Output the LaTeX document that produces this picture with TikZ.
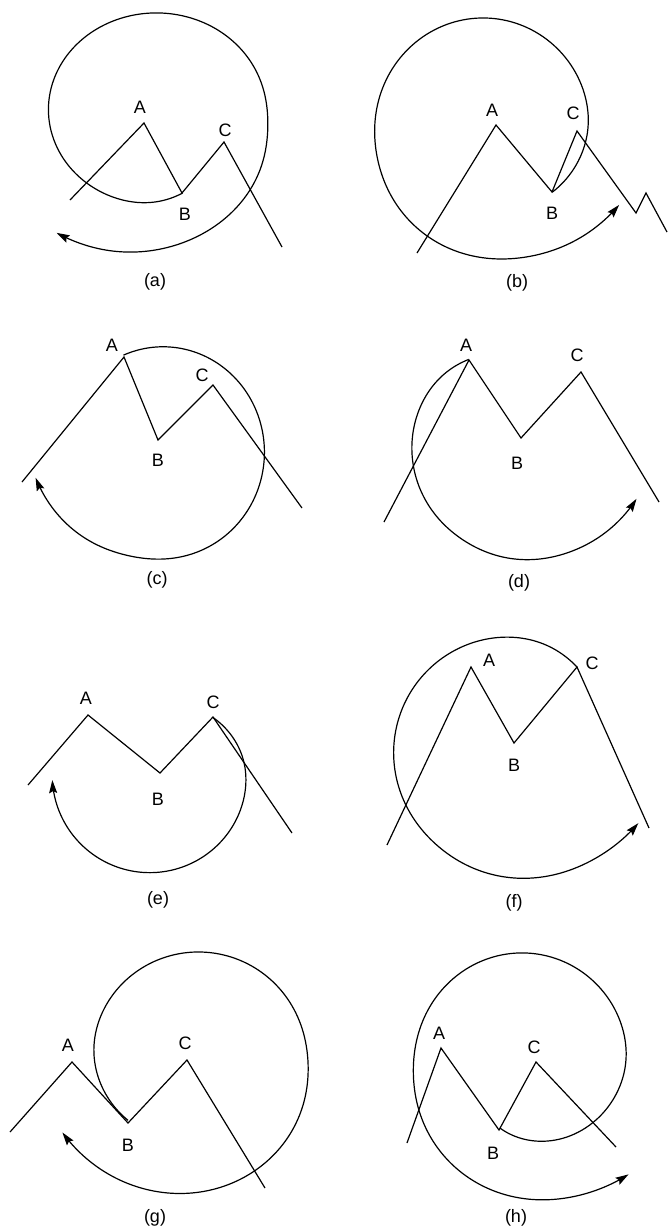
\documentclass[tikz,border=0pt]{standalone}
\usepackage{fontspec}
\setmainfont{Liberation Sans}
\usetikzlibrary{arrows.meta}

\begin{document}
\begin{tikzpicture}[x=1pt, y=-1pt, >={Stealth[length=13pt,width=8pt,inset=2pt]}, line width=1.2pt,
    every node/.style={font=\fontsize{18}{21}\selectfont, inner sep=0pt},
    declare function={
      ramp(\u)=10*(\u/20+sqrt((\u/20)^2+1));
      fa(\t)=1-0.0049*ramp(92-\t)+0.0057*ramp(\t-370)-0.004*ramp(\t-465);
      fb(\t)=1-0.00305*ramp(-\t)+0.0022*ramp(\t-195)+0.0033*ramp(\t-290);
      fc(\t)=1+0.0047*ramp(\t-470);
      fd(\t)=1-0.0022*ramp(135-\t)+0.0025*ramp(\t-242)+0.0025*ramp(\t-300);
      fe(\t)=1-0.00367*ramp(350-\t);
      ff(\t)=1-0.00284*ramp(72-\t)+0.0019*ramp(\t-232)+0.003*ramp(\t-310);
      fg(\t)=1-0.00249*ramp(185-\t)+0.003*ramp(\t-362);
      fh(\t)=1-0.00327*ramp(-\t)+0.0028*ramp(\t-185)+0.003*ramp(\t-295);
    }]
  \tikzstyle{ridge}=[line join=miter]
  \tikzstyle{sweep}=[->, line join=round, smooth, samples=160]
  \useasboundingbox (0,0) rectangle (667,1232);

  % (a)
  \draw[ridge] (70,200) -- (144,123) -- (182,193) -- (224,142) -- (282,247);
  \draw[sweep] plot[domain=74:486] ({156+108*fa(\x)*cos(\x)}, {110+97*fa(\x)*sin(\x)});
  \node (Aa) at (140,107) {A};
  \node (Ba) at (185,214) {B};
  \node (Ca) at (225,130) {C};

  % (b)
  \draw[ridge] (417,253) -- (496,125) -- (552,192) -- (577,131) -- (636,213) -- (646,193) -- (667,232);
  \draw[sweep] plot[domain=-42.4:331] ({483.5+107.5*fb(\x)*cos(\x)}, {128-110*fb(\x)*sin(\x)});
  \node (Ab) at (492,110) {A};
  \node (Bb) at (552,213) {B};
  \node (Cb) at (573,113) {C};

  % (c)
  \draw[ridge] (22,482) -- (124,357) -- (158,440) -- (213,385) -- (302,508);
  \draw[sweep] plot[domain=247:529] ({163+101*fc(\x)*cos(\x)}, {452+105*fc(\x)*sin(\x)});
  \node (Ac) at (112,345) {A};
  \node (Bc) at (158,460) {B};
  \node (Cc) at (202,375) {C};

  % (d)
  \draw[ridge] (384,522) -- (469,360) -- (521,438) -- (581,372) -- (659,502);
  \draw[sweep] plot[domain=117:338] ({512+100*fd(\x)*cos(\x)}, {447-103*fd(\x)*sin(\x)});
  \node (Ad) at (466,345) {A};
  \node (Bd) at (517,463) {B};
  \node (Cd) at (577,355) {C};

  % (e)
  \draw[ridge] (28,785) -- (88,715) -- (160,773) -- (213,717) -- (292,833);
  \draw[sweep] plot[domain=317.4:537] ({150+98*fe(\x)*cos(\x)}, {775+98*fe(\x)*sin(\x)});
  \node (Ae) at (86,698) {A};
  \node (Be) at (158,799) {B};
  \node (Ce) at (213,702) {C};

  % (f)
  \draw[ridge] (387,845) -- (471,667) -- (514,743) -- (577,667) -- (649,828);
  \draw[sweep] plot[domain=51.8:331] ({510+116*ff(\x)*cos(\x)}, {752-116*ff(\x)*sin(\x)});
  \node (Af) at (489,660) {A};
  \node (Bf) at (514,765) {B};
  \node (Cf) at (592,663) {C};

  % (g)
  \draw[ridge] (10,1132) -- (72,1062) -- (128,1123) -- (187,1060) -- (265,1188);
  \draw[sweep] plot[domain=138:511] ({198+107*fg(\x)*cos(\x)}, {1058+106*fg(\x)*sin(\x)});
  \node (Ag) at (68,1045) {A};
  \node (Bg) at (128,1145) {B};
  \node (Cg) at (185,1043) {C};

  % (h)
  \draw[ridge] (407,1143) -- (441,1048) -- (499,1130) -- (536,1062) -- (616,1147);
  \draw[sweep] plot[domain=-109.4:314] ({522.5+106.5*fh(\x)*cos(\x)}, {1062-109*fh(\x)*sin(\x)});
  \node (Ah) at (439,1033) {A};
  \node (Bh) at (493,1153) {B};
  \node (Ch) at (534,1047) {C};

  % captions
  \foreach \t/\x/\y in {a/155/282, b/517/283, c/157/580, d/519/583,
                        e/158/900, f/514/903, g/155/1218, h/516/1218}{
    \node (cap\t) at (\x,\y) {(\t)};
  }
\end{tikzpicture}
\end{document}
